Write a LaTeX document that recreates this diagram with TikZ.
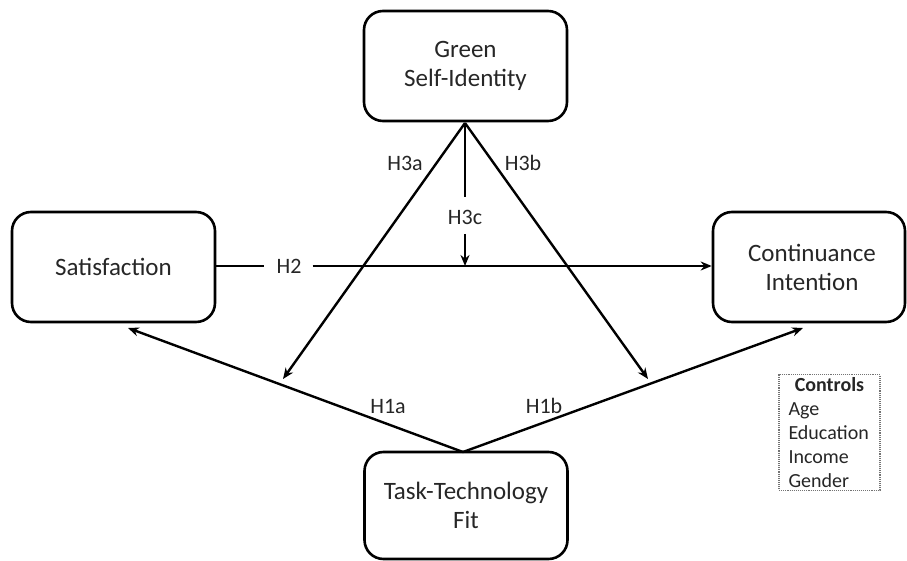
\documentclass[tikz,border=0pt]{standalone}
\usepackage{fontspec}
\setmainfont{Carlito}
\usetikzlibrary{arrows.meta}
\begin{document}
\begin{tikzpicture}[x=1pt,y=-1pt,
  every node/.style={text=black!85},
  box/.style={draw=black, line width=2.6pt, rounded corners=19pt, minimum width=203pt, minimum height=110pt, align=center, font=\fontsize{25}{29}\selectfont},
  hyp/.style={font=\fontsize{22}{26}\selectfont, inner sep=0pt},
  conn/.style={draw=black, line width=2.4pt},
  arr/.style={conn, -{Stealth[length=11pt,width=9pt]}},
  ctrlbox/.style={draw=black!55, densely dotted, line width=1.1pt, text width=82pt, align=left, inner xsep=9.5pt, inner ysep=2.5pt, font=\fontsize{20}{24}\selectfont}
]
\useasboundingbox (0,0) rectangle (907,561);

\node[box] (G) at (465.5,66) {Green\\Self-Identity};
\node[box] (S) at (113.5,267) {Satisfaction};
\node[box, minimum width=192pt] (C) at (809,267) {\hspace*{6pt}Continuance\\\hspace*{6pt}Intention};
\node[box, minimum height=107pt] (T) at (466,505.5) {Task-Technology\\Fit};

\node[ctrlbox] (ctl) at (829.5,432.5) {\makebox[82pt][c]{\bfseries Controls}\\Age\\Education\\Income\\Gender};

\coordinate (sArr) at (128,328);
\coordinate (cArr) at (803,328);
\coordinate (aArr) at (283,379);
\coordinate (bArr) at (648,379);
\coordinate (gTop) at (465,123);
\coordinate (tTop) at (463,452);
\coordinate (h3cEnd) at (465,197);
\coordinate (h3cStart) at (465,234);
\coordinate (h3cTip) at (465,266);

\node[hyp] (h2) at (289,266) {H2};
\node[hyp] (h3a) at (405,163) {H3a};
\node[hyp] (h3b) at (523,163) {H3b};
\node[hyp] (h3c) at (465,217) {H3c};
\node[hyp] (h1a) at (388,406) {H1a};
\node[hyp] (h1b) at (544,406) {H1b};

% H2
\draw[conn] (S.east |- h2) -- ([xshift=-12pt]h2.center -| h2.west);
\draw[arr] ([xshift=11pt]h2.east) -- (C.west |- h2);
% H1a, H1b
\draw[arr] (tTop) -- (sArr);
\draw[arr] (tTop) -- (cArr);
% H3a, H3b
\draw[arr] (gTop) -- (aArr);
\draw[arr] (gTop) -- (bArr);
% H3c
\draw[conn] (gTop) -- (h3cEnd);
\draw[arr] (h3cStart) -- (h3cTip);
\end{tikzpicture}
\end{document}
